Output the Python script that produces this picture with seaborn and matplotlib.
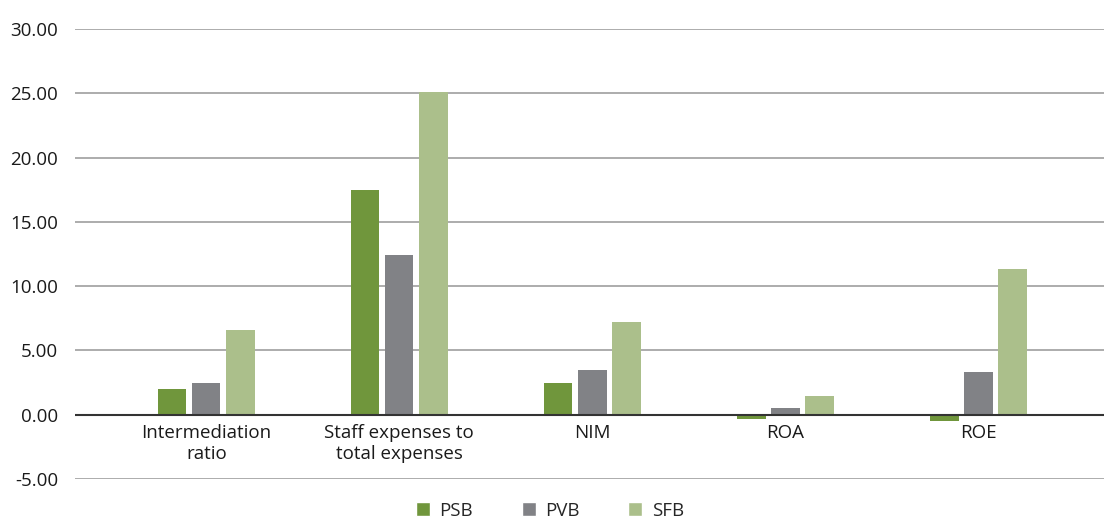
import pandas as pd
import seaborn as sns
import matplotlib.pyplot as plt
from matplotlib.patches import Patch

# Chart data
categories = ['Intermediation\nratio', 'Staff expenses to\ntotal expenses', 'NIM', 'ROA', 'ROE']
banks = ['PSB', 'PVB', 'SFB']
psb = [2.0, 17.5, 2.45, -0.3, -0.45]
pvb = [2.45, 12.4, 3.5, 0.5, 3.3]
sfb = [6.6, 25.1, 7.25, 1.45, 11.3]
yticks = [-5, 0, 5, 10, 15, 20, 25, 30]

colors = ['#70963C', '#818286', '#ABBF8B']

df = pd.DataFrame({'category': categories * 3,
                   'bank': [b for b in banks for _ in categories],
                   'value': psb + pvb + sfb})

sns.set_style('white')
plt.rcParams['font.family'] = ['Open Sans', 'DejaVu Sans']

fig = plt.figure(figsize=(11.04, 5.19), dpi=100)
ax = fig.add_axes([75 / 1104, 40 / 519, 1 - 75 / 1104, 450 / 519])

sns.barplot(data=df, x='category', y='value', hue='bank', palette=colors,
            width=0.53, gap=0.17, ax=ax, legend=False, saturation=1,
            linewidth=0, edgecolor='none')

ax.set_ylim(-5, 30)
ax.set_xlim(-0.68, 4.65)
ax.set_yticks(yticks)
ax.set_yticklabels([f'{t:.2f}' for t in yticks], fontsize=13.5, color='#1a1a1a')
for t in yticks:
    if t == 0:
        ax.axhline(t, color='#333333', lw=1.5, zorder=5)
    else:
        ax.axhline(t, color='#a6a6a6', lw=1.3, zorder=0.5)
ax.tick_params(axis='y', length=0, pad=12)
ax.set_xticks([])
ax.set_xlabel('')
ax.set_ylabel('')
sns.despine(ax=ax, left=True, bottom=True)

# category labels sit just under the zero line
for i, c in enumerate(categories):
    ax.text(i, -0.7, c, ha='center', va='top', fontsize=13.5, color='#1a1a1a',
            linespacing=1.25)

handles = [Patch(facecolor=c, label=b) for b, c in zip(banks, colors)]
fig.legend(handles=handles, loc='center', bbox_to_anchor=(0.498, 0.016), ncol=3,
           frameon=False, fontsize=13.5, handlelength=0.75, handleheight=0.75,
           columnspacing=2.6, handletextpad=0.5)

fig.savefig('out.png', dpi=100)
